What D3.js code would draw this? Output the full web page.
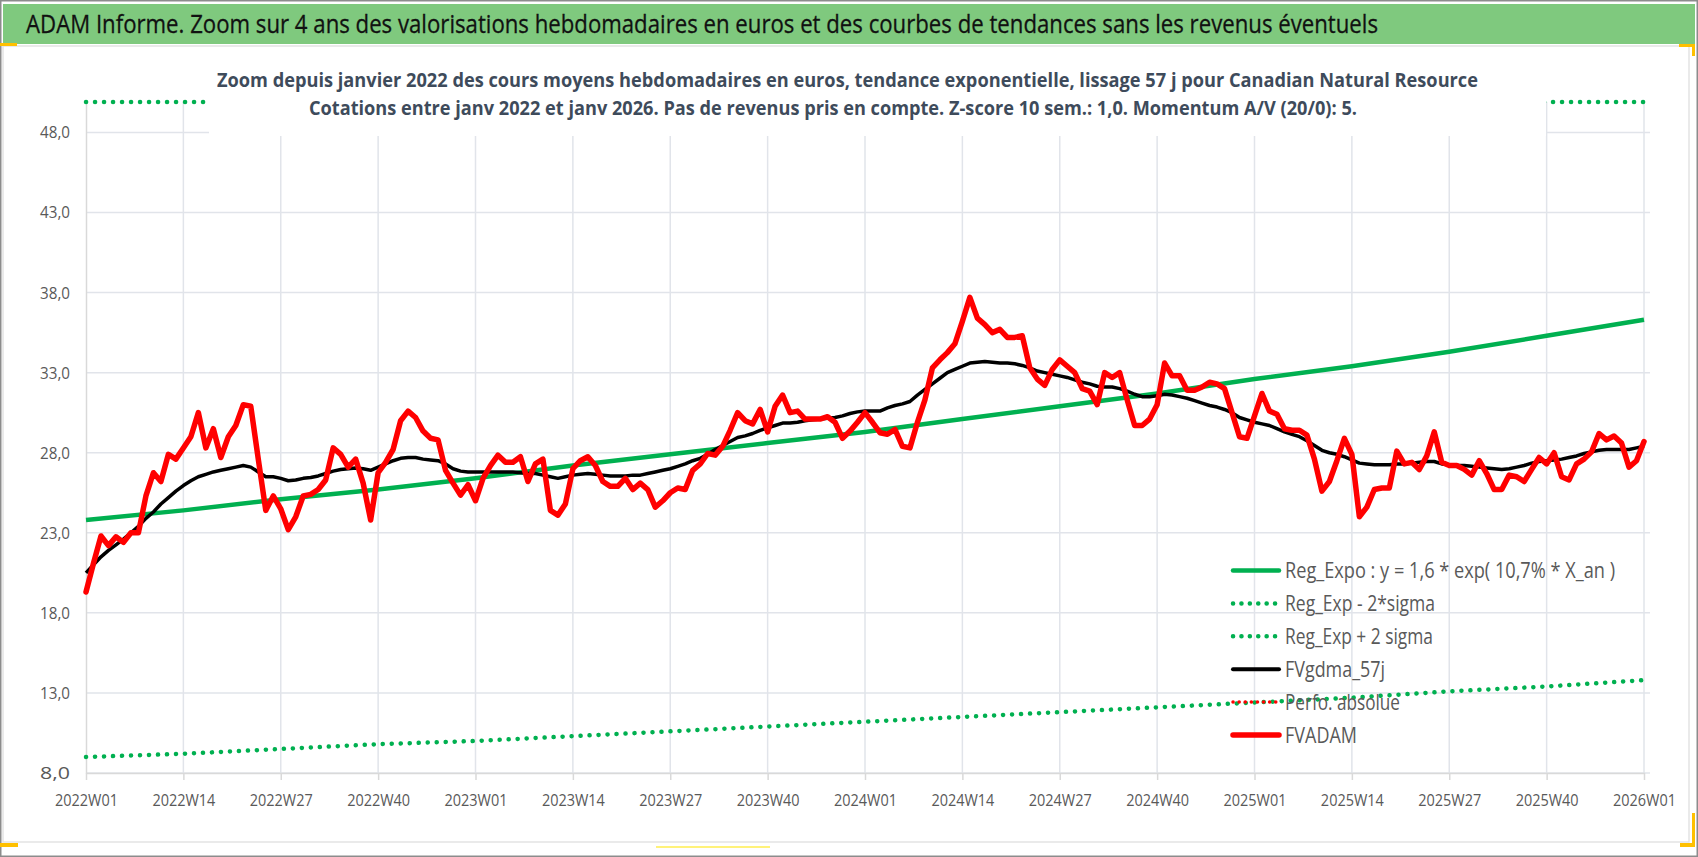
<!DOCTYPE html>
<html>
<head>
<meta charset="utf-8">
<title>ADAM Informe</title>
<script src="https://d3js.org/d3.v7.min.js"></script>
<style>
    body { margin: 0; background: #fff; }
    text { font-family: "Open Sans", sans-serif; }
</style>
</head>
<body>
<svg width="1698" height="857"></svg>
<script>
// tick labels of the category axis (every 13 weeks)
const tickLabels = ["2022W01","2022W14","2022W27","2022W40","2023W01","2023W14","2023W27","2023W40",
    "2024W01","2024W14","2024W27","2024W40","2025W01","2025W14","2025W27","2025W40","2026W01"];
const yTicks = [8, 13, 18, 23, 28, 33, 38, 43, 48];

// FVADAM, weekly (red)
const fvadam = [
    19.3, 21.1, 22.8, 22.2, 22.75, 22.4, 23.0, 23.0, 25.3, 26.75,
    26.2, 27.9, 27.6, 28.3, 29.0, 30.5, 28.3, 29.5, 27.7, 29.0,
    29.7, 31.0, 30.9, 27.6, 24.4, 25.3, 24.5, 23.2, 24.0, 25.3,
    25.4, 25.7, 26.3, 28.3, 27.9, 27.1, 27.6, 26.1, 23.8, 26.75,
    27.4, 28.2, 30.0, 30.6, 30.2, 29.35, 28.9, 28.8, 26.9, 26.1,
    25.35, 26.0, 25.0, 26.4, 27.2, 27.85, 27.4, 27.4, 27.75, 26.2,
    27.3, 27.6, 24.4, 24.1, 24.8, 27.0, 27.5, 27.75, 27.2, 26.2,
    25.9, 25.9, 26.4, 25.7, 26.1, 25.7, 24.6, 25.0, 25.5, 25.8,
    25.7, 26.9, 27.3, 27.95, 27.85, 28.4, 29.4, 30.5, 30.0, 29.8,
    30.7, 29.3, 30.9, 31.6, 30.5, 30.6, 30.1, 30.1, 30.1, 30.25,
    29.9, 28.9, 29.35, 29.9, 30.5, 29.9, 29.25, 29.15, 29.45, 28.4,
    28.3, 29.9, 31.3, 33.3, 33.8, 34.25, 34.8, 36.2, 37.7, 36.4,
    36.0, 35.5, 35.7, 35.2, 35.2, 35.3, 33.3, 32.6, 32.2, 33.2,
    33.8, 33.4, 33.0, 32.0, 31.85, 31.0, 33.0, 32.7, 33.0, 31.3,
    29.7, 29.7, 30.1, 31.0, 33.6, 32.8, 32.8, 31.9, 31.9, 32.1,
    32.4, 32.3, 32.0, 30.5, 29.0, 28.9, 30.3, 31.7, 30.6, 30.4,
    29.5, 29.4, 29.4, 29.1, 27.6, 25.6, 26.2, 27.5, 28.9, 27.9,
    24.0, 24.6, 25.7, 25.8, 25.8, 28.1, 27.3, 27.4, 26.95, 27.8,
    29.3, 27.4, 27.2, 27.2, 26.96, 26.6, 27.5, 26.7, 25.7, 25.7,
    26.6, 26.5, 26.2, 26.96, 27.7, 27.3, 28.0, 26.5, 26.3, 27.3,
    27.6, 28.06, 29.2, 28.8, 29.04, 28.6, 27.1, 27.5, 28.7
];

// FVgdma_57j, weekly (black)
const fvgdma = [
    20.5, 21.0, 21.5, 21.9, 22.25, 22.6, 23.0, 23.4, 23.9, 24.3,
    24.8, 25.2, 25.6, 25.95, 26.25, 26.5, 26.65, 26.8, 26.9, 27.0,
    27.1, 27.2, 27.1, 26.8, 26.5, 26.5, 26.4, 26.25, 26.3, 26.4,
    26.45, 26.55, 26.7, 26.85, 26.95, 27.0, 27.05, 27.0, 26.9, 27.1,
    27.3, 27.5, 27.65, 27.7, 27.7, 27.6, 27.55, 27.5, 27.3, 27.0,
    26.85, 26.8, 26.8, 26.8, 26.8, 26.8, 26.8, 26.8, 26.75, 26.7,
    26.7, 26.6, 26.5, 26.4, 26.5, 26.6, 26.65, 26.7, 26.65, 26.6,
    26.55, 26.55, 26.55, 26.6, 26.6, 26.7, 26.8, 26.9, 27.0, 27.15,
    27.3, 27.5, 27.65, 27.9, 28.2, 28.45, 28.7, 28.95, 29.05, 29.2,
    29.4, 29.55, 29.7, 29.85, 29.85, 29.9, 30.0, 30.05, 30.1, 30.15,
    30.2, 30.3, 30.45, 30.55, 30.6, 30.6, 30.6, 30.8, 30.95, 31.05,
    31.2, 31.6, 31.95, 32.3, 32.65, 33.0, 33.2, 33.4, 33.6, 33.65,
    33.7, 33.65, 33.6, 33.6, 33.55, 33.45, 33.3, 33.1, 33.0, 32.9,
    32.8, 32.7, 32.55, 32.4, 32.3, 32.15, 32.1, 32.1, 32.0, 31.85,
    31.65, 31.5, 31.5, 31.55, 31.65, 31.6, 31.5, 31.4, 31.25, 31.1,
    30.95, 30.85, 30.7, 30.5, 30.2, 30.05, 29.9, 29.8, 29.7, 29.5,
    29.3, 29.15, 29.0, 28.75, 28.45, 28.15, 28.0, 27.9, 27.75, 27.55,
    27.35, 27.3, 27.25, 27.25, 27.25, 27.3, 27.3, 27.35, 27.4, 27.45,
    27.45, 27.3, 27.25, 27.2, 27.2, 27.15, 27.1, 27.05, 27.0, 26.95,
    27.0, 27.1, 27.2, 27.35, 27.45, 27.5, 27.55, 27.6, 27.7, 27.8,
    27.95, 28.05, 28.15, 28.2, 28.2, 28.2, 28.2, 28.3, 28.4
];

// trend lines, read at each tick label
const regExpo = [23.8, 24.4, 25.1, 25.7, 26.4, 27.2, 27.9, 28.6, 29.3, 30.1, 30.9, 31.7, 32.6, 33.4, 34.3, 35.3, 36.3];
const regLow  = [9.0, 9.2, 9.5, 9.8, 10.0, 10.3, 10.6, 10.9, 11.2, 11.5, 11.8, 12.1, 12.4, 12.7, 13.1, 13.4, 13.8];
const regHigh = [62.9, 64.6, 66.4, 68.2, 70.0, 71.9, 73.9, 75.9, 78.0, 80.1, 82.3, 84.5, 86.8, 89.2, 91.6, 94.1, 96.6];

const legendNames = ["Reg_Expo : y = 1,6 * exp( 10,7% *  X_an )", "Reg_Exp - 2*sigma", "Reg_Exp + 2 sigma",
    "FVgdma_57j", "Perfo. absolue", "FVADAM"];

// weekly categories 2022W01 .. 2026W01
const weeks = [];
for (let yr = 2022; yr <= 2025; yr++)
    for (let w = 1; w <= 52; w++) weeks.push(yr + "W" + String(w).padStart(2, "0"));
weeks.push("2026W01");

const svg = d3.select("svg");
const W = 1698, H = 857;
const plot = {left: 86, right: 1644, top: 102, bottom: 773};

const x = d3.scalePoint().domain(weeks).range([plot.left, plot.right]);
const y = d3.scaleLinear().domain([8, 49.9]).range([plot.bottom, plot.top]).clamp(true);

// frame
svg.append("rect").attr("x", 0.75).attr("y", 0.75).attr("width", W - 1.5).attr("height", H - 1.5)
   .attr("fill", "#fff").attr("stroke", "#8c8c8c").attr("stroke-width", 1.5);
svg.append("rect").attr("x", 3).attr("y", 46).attr("width", 1686).attr("height", 796)
   .attr("fill", "#fff").attr("stroke", "#e3e3e3").attr("stroke-width", 1.5);

// header band
svg.append("rect").attr("x", 3).attr("y", 4).attr("width", 1692).attr("height", 40).attr("fill", "#7fc97e");
svg.append("text").attr("x", 26).attr("y", 33)
   .attr("font-size", 26).attr("fill", "#111").attr("stroke", "#111").attr("stroke-width", 0.3)
   .attr("textLength", 1352).attr("lengthAdjust", "spacingAndGlyphs")
   .text("ADAM Informe. Zoom sur 4 ans des valorisations hebdomadaires en euros et des courbes de tendances sans les revenus éventuels");

// gridlines
svg.append("g")
   .selectAll("line").data(yTicks).join("line")
   .attr("x1", plot.left).attr("x2", plot.right + 6)
   .attr("y1", d => y(d)).attr("y2", d => y(d))
   .attr("stroke", "#e1e4ea").attr("stroke-width", 1.5);
svg.append("g")
   .selectAll("line").data(tickLabels.slice(1)).join("line")
   .attr("x1", d => x(d)).attr("x2", d => x(d))
   .attr("y1", plot.top).attr("y2", plot.bottom)
   .attr("stroke", "#e1e4ea").attr("stroke-width", 1.5);

// axes
const xAxis = svg.append("g")
   .attr("transform", `translate(0,${plot.bottom})`)
   .call(d3.axisBottom(x).tickValues(tickLabels).tickSize(7).tickSizeOuter(0).tickPadding(14));
const yAxis = svg.append("g")
   .attr("transform", `translate(${plot.left},0)`)
   .call(d3.axisLeft(y).tickValues(yTicks).tickSize(0).tickPadding(16)
         .tickFormat(d => d3.format(".1f")(d).replace(".", ",")));
[xAxis, yAxis].forEach(g => {
    g.select(".domain").attr("stroke", "#d9d9d9").attr("stroke-width", 1.5);
    g.selectAll(".tick line").attr("stroke", "#d9d9d9").attr("stroke-width", 1.5);
    g.selectAll(".tick text").attr("fill", "#595959").attr("font-family", "Open Sans, sans-serif")
     .attr("font-size", 17).attr("lengthAdjust", "spacingAndGlyphs");
});
xAxis.selectAll(".tick text").attr("textLength", 63);
yAxis.selectAll(".tick text").attr("textLength", 30);

// series
const line = d3.line().x(d => x(d[0])).y(d => y(d[1]));

svg.append("path").datum(tickLabels.map((d, i) => [d, regExpo[i]]))
   .attr("d", line).attr("fill", "none").attr("stroke", "#00b050").attr("stroke-width", 4.5);
[regLow, regHigh].forEach(arr => {
    svg.append("path").datum(tickLabels.map((d, i) => [d, arr[i]]))
       .attr("d", line).attr("fill", "none").attr("stroke", "#00b050").attr("stroke-width", 4.5)
       .attr("stroke-linecap", "round").attr("stroke-dasharray", "0.1 8.9");
});
svg.append("path").datum(weeks.map((d, i) => [d, fvgdma[i]]))
   .attr("d", line).attr("fill", "none").attr("stroke", "#000").attr("stroke-width", 3.5)
   .attr("stroke-linejoin", "round");
svg.append("path").datum(weeks.map((d, i) => [d, fvadam[i]]))
   .attr("d", line).attr("fill", "none").attr("stroke", "#ff0000").attr("stroke-width", 5.5)
   .attr("stroke-linejoin", "round").attr("stroke-linecap", "round");

// subtitle box
svg.append("rect").attr("x", 209).attr("y", 52).attr("width", 1337).attr("height", 84).attr("fill", "#fff");
svg.append("text").attr("x", 217).attr("y", 87).attr("font-size", 20).attr("font-weight", "bold")
   .attr("fill", "#3e4b5b").attr("textLength", 1261).attr("lengthAdjust", "spacingAndGlyphs")
   .text("Zoom depuis janvier 2022 des cours moyens hebdomadaires en euros, tendance exponentielle, lissage 57 j pour Canadian Natural Resource");
svg.append("text").attr("x", 309).attr("y", 115).attr("font-size", 20).attr("font-weight", "bold")
   .attr("fill", "#3e4b5b").attr("textLength", 1048).attr("lengthAdjust", "spacingAndGlyphs")
   .text("Cotations entre janv 2022 et janv 2026. Pas de revenus pris en compte. Z-score 10 sem.: 1,0. Momentum A/V (20/0): 5.");

// legend
const legStyles = [
    {c: "#00b050", w: 4.5, dash: null},
    {c: "#00b050", w: 4.5, dash: "0.1 8.3"},
    {c: "#00b050", w: 4.5, dash: "0.1 8.3"},
    {c: "#000", w: 4, dash: null},
    {c: "#ff0000", w: 3.5, dash: "0.1 6"},
    {c: "#ff0000", w: 5.5, dash: null}
];
const legWidths = [330, 150, 148, 100, 115, 72];
const leg = svg.append("g").selectAll("g").data(legendNames).join("g")
   .attr("transform", (d, i) => `translate(0,${570.5 + i * 32.9})`);
leg.append("line").attr("x1", 1233).attr("x2", 1279).attr("y1", 0).attr("y2", 0)
   .attr("stroke", (d, i) => legStyles[i].c).attr("stroke-width", (d, i) => legStyles[i].w)
   .attr("stroke-linecap", "round")
   .attr("stroke-dasharray", (d, i) => legStyles[i].dash);
leg.append("text").attr("x", 1285).attr("dy", "0.36em").attr("font-size", 22).attr("fill", "#595959")
   .attr("textLength", (d, i) => legWidths[i]).attr("lengthAdjust", "spacingAndGlyphs")
   .text(d => d);

// selection handles
const handles = svg.append("g").attr("fill", "#ffc000");
handles.append("rect").attr("x", 0).attr("y", 43).attr("width", 17).attr("height", 3);
handles.append("rect").attr("x", 1679).attr("y", 44).attr("width", 16).attr("height", 3);
handles.append("rect").attr("x", 1692).attr("y", 44).attr("width", 3).attr("height", 12);
handles.append("rect").attr("x", 1692).attr("y", 813).attr("width", 3).attr("height", 34);
handles.append("rect").attr("x", 1680).attr("y", 843).attr("width", 15).attr("height", 4);
handles.append("rect").attr("x", 0).attr("y", 843).attr("width", 18).attr("height", 4);
svg.append("rect").attr("x", 656).attr("y", 846).attr("width", 114).attr("height", 2).attr("fill", "#fff27a");
</script>
</body>
</html>
